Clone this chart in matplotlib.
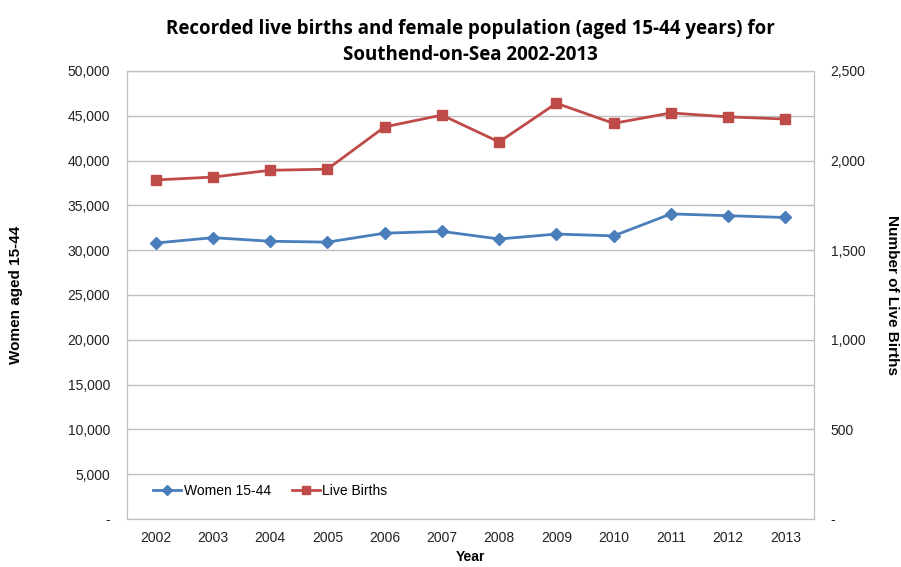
import matplotlib.pyplot as plt
from matplotlib.ticker import FuncFormatter

# Données
years = ['2002', '2003', '2004', '2005', '2006', '2007', '2008', '2009', '2010', '2011', '2012', '2013']
women = [30800, 31400, 31000, 30900, 31900, 32100, 31250, 31800, 31600, 34050, 33850, 33650]
births = [1892, 1908, 1946, 1952, 2188, 2254, 2104, 2320, 2208, 2266, 2244, 2232]

blue = '#4a7ebb'
red = '#be4b48'
grid_col = '#bfbfbf'

plt.rcParams['font.family'] = ['Liberation Sans', 'DejaVu Sans']

fig = plt.figure(figsize=(9.01, 5.67), dpi=100)
ax = fig.add_axes([127 / 901, 1 - 519 / 567, (814 - 127) / 901, (519 - 71) / 567])
ax2 = ax.twinx()

x = range(len(years))
l1, = ax.plot(x, women, color=blue, linewidth=2, marker='D', markersize=6, label='Women 15-44')
l2, = ax2.plot(x, births, color=red, linewidth=2, marker='s', markersize=7, label='Live Births')

def fmt(v, pos):
    return '-' if v == 0 else f'{int(v):,}'

ax.set_ylim(0, 50000)
ax.set_yticks(range(0, 50001, 5000))
ax.yaxis.set_major_formatter(FuncFormatter(fmt))
ax2.set_ylim(0, 2500)
ax2.set_yticks(range(0, 2501, 500))
ax2.yaxis.set_major_formatter(FuncFormatter(fmt))

ax.set_xlim(-0.5, len(years) - 0.5)
ax.set_xticks(list(x))
ax.set_xticklabels(years)

ax.grid(axis='y', color=grid_col, linewidth=1)
ax.set_axisbelow(True)
for a in (ax, ax2):
    for s in a.spines.values():
        s.set_color(grid_col)
    a.tick_params(length=0, labelsize=10, colors='#222222', pad=10)
ax.tick_params(axis='y', pad=12)
ax2.tick_params(axis='y', pad=12)
ax.tick_params(axis='x', pad=9)

ax.set_ylabel('Women aged 15-44', fontsize=11, fontweight='bold', labelpad=32)
ax2.set_ylabel('Number of Live Births', fontsize=11, fontweight='bold', rotation=-90, labelpad=24)
ax.set_xlabel('Year', fontsize=10, fontweight='bold', labelpad=3)

ax.set_title('Recorded live births and female population (aged 15-44 years) for\nSouthend-on-Sea 2002-2013',
             fontsize=13.5, fontweight='bold', family=['Open Sans', 'DejaVu Sans'], pad=8, linespacing=1.4)

ax2.legend(handles=[l1, l2], loc='lower left', bbox_to_anchor=(0.02, 0.02), ncol=2, frameon=False,
           fontsize=10, handlelength=2, handletextpad=0.2, columnspacing=1.5, markerscale=0.8)

fig.savefig('out.png', dpi=100)
